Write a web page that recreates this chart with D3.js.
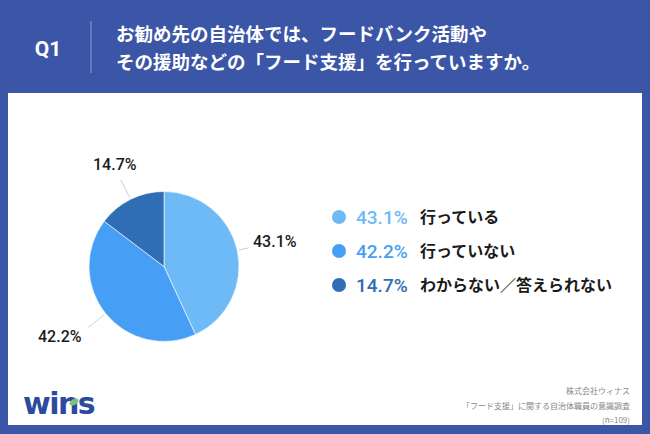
<!DOCTYPE html>
<html>
<head>
<meta charset="utf-8">
<script src="https://cdn.jsdelivr.net/npm/d3@7"></script>
<style>
  body { margin: 0; overflow: hidden; background: #3b56a6; }
  svg text { font-family: "Noto Sans CJK JP", "Noto Sans", sans-serif; }
</style>
</head>
<body>
<script>
// chart data
const categories = ['行っている', '行っていない', 'わからない／答えられない'];
const values = [43.1, 42.2, 14.7];
const colors = ['#6dbaf7', '#479ff5', '#2f6db4'];
const titleLines = ['お勧め先の自治体では、フードバンク活動や', 'その援助などの「フード支援」を行っていますか。'];
const sourceLines = ['株式会社ウィナス', '「フード支援」に関する自治体職員の意識調査', '(n=109)'];

const width = 650, height = 434;

const svg = d3.select('body').append('svg')
  .attr('width', width)
  .attr('height', height);

// background + white panel
svg.append('rect').attr('width', width).attr('height', height).attr('fill', '#3b56a6');
svg.append('rect')
  .attr('x', 8).attr('y', 93)
  .attr('width', 634).attr('height', 332)
  .attr('fill', '#ffffff');

// header
svg.append('text')
  .attr('x', 48).attr('y', 56)
  .attr('text-anchor', 'middle')
  .attr('fill', '#fff')
  .attr('font-size', 21)
  .attr('font-weight', 700)
  .style('font-family', 'Roboto, sans-serif')
  .text('Q1');

svg.append('line')
  .attr('x1', 91).attr('x2', 91)
  .attr('y1', 21).attr('y2', 73)
  .attr('stroke', '#8fa0cf').attr('stroke-width', 1);

svg.selectAll('.title')
  .data(titleLines)
  .join('text')
  .attr('class', 'title')
  .attr('x', 116)
  .attr('y', (d, i) => 41 + i * 28)
  .attr('fill', '#fff')
  .attr('font-size', 18.5)
  .attr('font-weight', 700)
  .text(d => d);

// pie
const cx = 164, cy = 266.5, r = 75;
const pie = d3.pie().sort(null).value(d => d);
const arcs = pie(values);
const arc = d3.arc().innerRadius(0).outerRadius(r);

const g = svg.append('g').attr('transform', `translate(${cx},${cy})`);
g.selectAll('path')
  .data(arcs)
  .join('path')
  .attr('d', arc)
  .attr('fill', (d, i) => colors[i])
  .attr('stroke', '#fff')
  .attr('stroke-width', 0.6);

// leader lines
const lineLen = [12, 22, 22];
arcs.forEach((d, i) => {
  const mid = (d.startAngle + d.endAngle) / 2;
  const sx = Math.sin(mid), sy = -Math.cos(mid);
  const r1 = r + 2, r2 = r + lineLen[i];
  g.append('line')
    .attr('x1', sx * r1).attr('y1', sy * r1)
    .attr('x2', sx * r2).attr('y2', sy * r2)
    .attr('stroke', '#cfcfcf').attr('stroke-width', 1);
});

// outside labels
const labelXY = [[89, -19.5], [-126, 75.5], [-71, -96.5]];
g.selectAll('.plabel')
  .data(arcs)
  .join('text')
  .attr('class', 'plabel')
  .attr('x', (d, i) => labelXY[i][0])
  .attr('y', (d, i) => labelXY[i][1])
  .attr('fill', '#1a1a1a')
  .attr('font-size', 16)
  .attr('font-weight', 500)
  .style('font-family', 'Roboto, sans-serif')
  .text(d => d.data.toFixed(1) + '%');

// legend
const legend = svg.append('g');
const ly = d3.scaleBand().domain(categories).range([200, 302]);
categories.forEach((c, i) => {
  const y = ly(c) + ly.bandwidth() / 2;
  legend.append('circle')
    .attr('cx', 339).attr('cy', y)
    .attr('r', 7)
    .attr('fill', colors[i]);
  legend.append('text')
    .attr('x', 356).attr('y', y + 7)
    .attr('fill', colors[i])
    .attr('font-size', 19)
    .attr('font-weight', 500)
    .style('font-family', 'Roboto, sans-serif')
    .text(values[i].toFixed(1) + '%');
  legend.append('text')
    .attr('x', 420).attr('y', y + 6)
    .attr('fill', '#1a1a1a')
    .attr('font-size', 16)
    .attr('font-weight', 700)
    .text(c);
});

// logo
const logo = svg.append('g');
logo.append('text')
  .attr('x', 23).attr('y', 414)
  .attr('fill', '#2d4b9e')
  .attr('font-size', 30)
  .attr('font-weight', 700)
  .attr('letter-spacing', -1.5)
  .style('font-family', '"DejaVu Sans", sans-serif')
  .text('wins');
logo.append('ellipse')
  .attr('cx', 74).attr('cy', 402)
  .attr('rx', 5).attr('ry', 3)
  .attr('transform', 'rotate(-30,74,402)')
  .attr('fill', '#7cc27c');

// source
svg.selectAll('.src')
  .data(sourceLines)
  .join('text')
  .attr('class', 'src')
  .attr('x', 630)
  .attr('y', (d, i) => 394 + i * 14.5)
  .attr('text-anchor', 'end')
  .attr('fill', '#888')
  .attr('font-size', 8)
  .text(d => d);
</script>
</body>
</html>
